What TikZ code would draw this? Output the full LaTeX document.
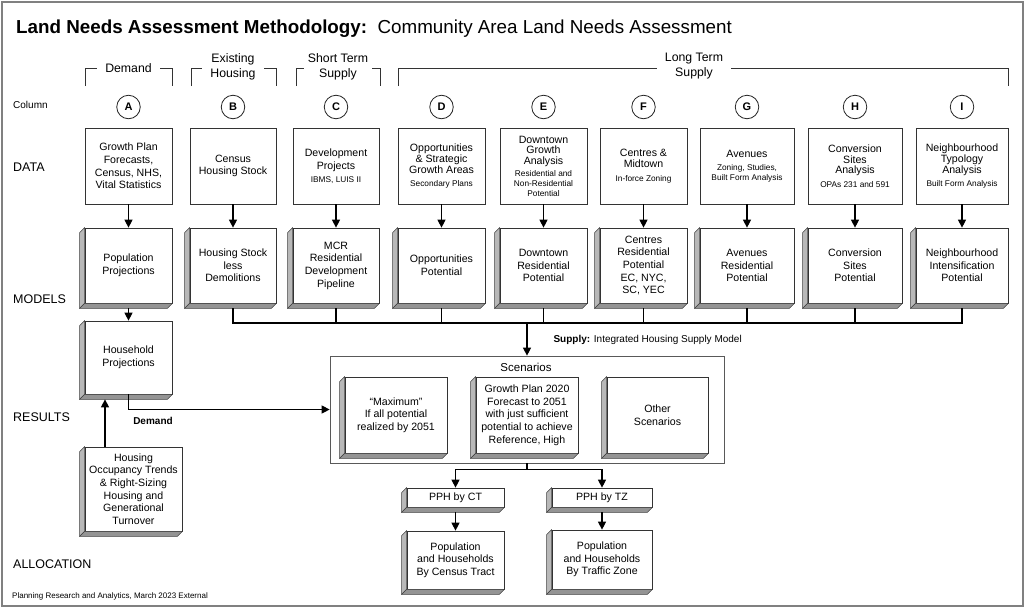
\documentclass[tikz,border=0pt]{standalone}
\usepackage{fontspec}
\setmainfont{Liberation Sans}
\usetikzlibrary{arrows.meta}
\newcommand{\flowarrow}{-{Triangle[length=8pt,width=8pt]}}
\newcommand{\smalltxt}{\fontsize{8.3}{10}\selectfont}
\newcommand{\bevel}[1]{%
  \filldraw[fill=black!28,draw=black!75,line width=0.5pt] (#1.north west) -- ++(-5,5) -- ([shift={(-5pt,-5pt)}]#1.south west) -- (#1.south west) -- cycle;
  \filldraw[fill=black!42,draw=black!75,line width=0.5pt] (#1.south west) -- ([shift={(-5pt,-5pt)}]#1.south west) -- ([shift={(-5pt,-5pt)}]#1.south east) -- (#1.south east) -- cycle;}

\begin{document}
\begin{tikzpicture}[x=1pt,y=-1pt,
  facebox/.style={draw=black!80,fill=white,line width=0.7pt,align=center,inner sep=1pt,font=\fontsize{10.6}{12.7}\selectfont},
  tightbox/.style={facebox,font=\fontsize{10.6}{10.8}\selectfont},
  col/.style={draw=black!85,circle,line width=0.8pt,minimum size=23.5pt,inner sep=0pt,font=\fontsize{11}{13}\selectfont\bfseries},
  head/.style={fill=white,align=center,inner xsep=8pt,inner ysep=1pt,font=\fontsize{12.3}{15}\selectfont},
  rowlbl/.style={anchor=west,inner sep=0pt,font=\fontsize{12.5}{15}\selectfont},
  conn/.style={line width=1.1pt,black}]
\useasboundingbox (0,0) rectangle (1024,608);
\draw[black!50,line width=2pt] (1.5,1.5) rectangle (1022.5,606);

% title
\node[anchor=base west,inner sep=0pt,font=\fontsize{18.8}{22}\selectfont] (title) at (16,33)
  {\textbf{Land Needs Assessment Methodology:}\ \ Community Area Land Needs Assessment};

% column headers
\draw[black!80,line width=0.8pt] (85,86) -- (85,68) -- (172,68) -- (172,86);
\node[head] (hdem) at (128.5,68) {Demand};
\draw[black!80,line width=0.8pt] (191,86) -- (191,68) -- (276,68) -- (276,86);
\node[head] (hex) at (233,66.5) {Existing\\Housing};
\draw[black!80,line width=0.8pt] (296,86) -- (296,68) -- (380,68) -- (380,86);
\node[head,inner xsep=4pt] (hst) at (338,66.5) {Short Term\\Supply};
\draw[black!80,line width=0.8pt] (398,86) -- (398,68) -- (1008,68) -- (1008,86);
\node[head] (hlt) at (694,66.5) {Long Term\\Supply};

\node[anchor=west,inner sep=0pt,font=\fontsize{10}{12}\selectfont] (colh) at (13,104.5) {Column};
\foreach \c/\x in {A/128.5,B/233,C/336,D/441.5,E/543.5,F/643.5,G/747,H/855,I/962}
  \node[col] (c\c) at (\x,107) {\c};

% row labels
\node[rowlbl] (rdata) at (13,167) {DATA};
\node[rowlbl] (rmod) at (13,299) {MODELS};
\node[rowlbl] (rres) at (13,417) {RESULTS};
\node[rowlbl] (ralloc) at (13,564.5) {ALLOCATION};

% data
\node[facebox,minimum width=87pt,minimum height=76pt] (dA) at (128.5,166) {Growth Plan\\Forecasts,\\Census, NHS,\\Vital Statistics};
\node[facebox,minimum width=86pt,minimum height=76pt] (dB) at (233,166) {Census\\Housing Stock};
\node[facebox,minimum width=86pt,minimum height=76pt] (dC) at (336,166) {Development\\Projects\\{\smalltxt IBMS, LUIS II}};
\node[tightbox,minimum width=87pt,minimum height=76pt] (dD) at (441.5,166) {Opportunities\\\& Strategic\\Growth Areas\\[2.5pt]{\smalltxt Secondary Plans}};
\node[tightbox,minimum width=87pt,minimum height=76pt] (dE) at (543.5,166) {Downtown\\Growth\\Analysis\\[1pt]{\smalltxt Residential and}\\[-1pt]{\smalltxt Non-Residential}\\[-1pt]{\smalltxt Potential}};
\node[tightbox,minimum width=87pt,minimum height=76pt] (dF) at (643.5,166) {Centres \&\\Midtown\\[3pt]{\smalltxt In-force Zoning}};
\node[tightbox,minimum width=94pt,minimum height=76pt] (dG) at (747,166) {Avenues\\[2.5pt]{\smalltxt Zoning, Studies,}\\[-1pt]{\smalltxt Built Form Analysis}};
\node[tightbox,minimum width=94pt,minimum height=76pt] (dH) at (855,166) {Conversion\\Sites\\Analysis\\[2.5pt]{\smalltxt OPAs 231 and 591}};
\node[tightbox,minimum width=92pt,minimum height=76pt] (dI) at (962,166) {Neighbourhood\\Typology\\Analysis\\[2.5pt]{\smalltxt Built Form Analysis}};

% models
\node[facebox,minimum width=87pt,minimum height=75pt] (mA) at (128.5,265.5) {Population\\Projections};
\node[facebox,minimum width=86pt,minimum height=75pt] (mB) at (233,265.5) {Housing Stock\\less\\Demolitions};
\node[facebox,minimum width=86pt,minimum height=75pt] (mC) at (336,265.5) {MCR\\Residential\\Development\\Pipeline};
\node[facebox,minimum width=87pt,minimum height=75pt] (mD) at (441.5,265.5) {Opportunities\\Potential};
\node[facebox,minimum width=87pt,minimum height=75pt] (mE) at (543.5,265.5) {Downtown\\Residential\\Potential};
\node[facebox,minimum width=87pt,minimum height=75pt] (mF) at (643.5,265.5) {Centres\\Residential\\Potential\\EC, NYC,\\SC, YEC};
\node[facebox,minimum width=94pt,minimum height=75pt] (mG) at (747,265.5) {Avenues\\Residential\\Potential};
\node[facebox,minimum width=94pt,minimum height=75pt] (mH) at (855,265.5) {Conversion\\Sites\\Potential};
\node[facebox,minimum width=92pt,minimum height=75pt] (mI) at (962,265.5) {Neighbourhood\\Intensification\\Potential};
\foreach \c in {A,B,C,D,E,F,G,H,I} {
  \bevel{m\c}
  \draw[conn,\flowarrow] (d\c) -- (m\c);
}

% results
\node[facebox,minimum width=87pt,minimum height=73pt] (hh) at (128.5,357.5) {Household\\Projections};
\bevel{hh}
\node[facebox,minimum width=97pt,minimum height=84pt] (occ) at (133.5,489) {Housing\\Occupancy Trends\\\& Right-Sizing\\Housing and\\Generational\\Turnover};
\bevel{occ}

\node[draw=black!65,line width=0.7pt,minimum width=394pt,minimum height=107pt] (sc) at (527,409.5) {};
\node[font=\fontsize{11.5}{14}\selectfont] (sctitle) at (526,367) {Scenarios};
\node[facebox,minimum width=102pt,minimum height=76pt] (smax) at (396,415) {``Maximum''\\If all potential\\realized by 2051};
\node[facebox,minimum width=102pt,minimum height=76pt] (sgp) at (527,415) {Growth Plan 2020\\Forecast to 2051\\with just sufficient\\potential to achieve\\Reference, High};
\node[facebox,minimum width=101pt,minimum height=76pt] (soth) at (657.5,415) {Other\\Scenarios};
\foreach \s in {smax,sgp,soth} {\bevel{\s}}

% supply bus
\coordinate (busL) at (233,323);
\coordinate (busR) at (962,323);
\draw[conn] ([yshift=-5pt]mB.south) -- (busL) -- (busR) -- ([yshift=-5pt]mI.south);
\foreach \c in {C,D,E,F,G,H}
  \draw[conn] ([yshift=-5pt]m\c.south) -- (m\c.south |- busL);
\draw[conn,\flowarrow] (sc.north |- busL) -- (sc.north);
\node[anchor=west,font=\fontsize{10}{12}\selectfont] (sup) at (550,340) {\textbf{Supply:} Integrated Housing Supply Model};

% demand
\draw[conn,\flowarrow] ([yshift=-5pt]mA.south) -- (hh.north);
\draw[conn,\flowarrow] ([xshift=-28.5pt]occ.north) -- ([xshift=-23.5pt,yshift=-5pt]hh.south);
\draw[conn,\flowarrow] (hh.south) |- (sc.west);
\node[font=\fontsize{10}{12}\selectfont\bfseries] (dem) at (153,421) {Demand};

% allocation
\node[facebox,minimum width=97pt,minimum height=19pt] (pct) at (455.5,497.5) {PPH by CT};
\node[facebox,minimum width=100pt,minimum height=19pt] (ptz) at (602,497.5) {PPH by TZ};
\node[facebox,minimum width=97pt,minimum height=58pt] (popct) at (455.5,560) {Population\\and Households\\By Census Tract};
\node[facebox,minimum width=100pt,minimum height=59pt] (poptz) at (602,559.5) {Population\\and Households\\By Traffic Zone};
\foreach \s in {pct,ptz,popct,poptz} {\bevel{\s}}
\draw[conn] (sc.south) -- ++(0,6) coordinate (split);
\draw[conn,\flowarrow] (split) -| (pct.north);
\draw[conn,\flowarrow] (split) -| (ptz.north);
\draw[conn,\flowarrow] ([yshift=-5pt]pct.south) -- (popct.north);
\draw[conn,\flowarrow] ([yshift=-5pt]ptz.south) -- (poptz.north);

\node[anchor=west,inner sep=0pt,font=\fontsize{8}{10}\selectfont] (foot) at (12,596) {Planning Research and Analytics, March 2023 External};
\end{tikzpicture}
\end{document}
